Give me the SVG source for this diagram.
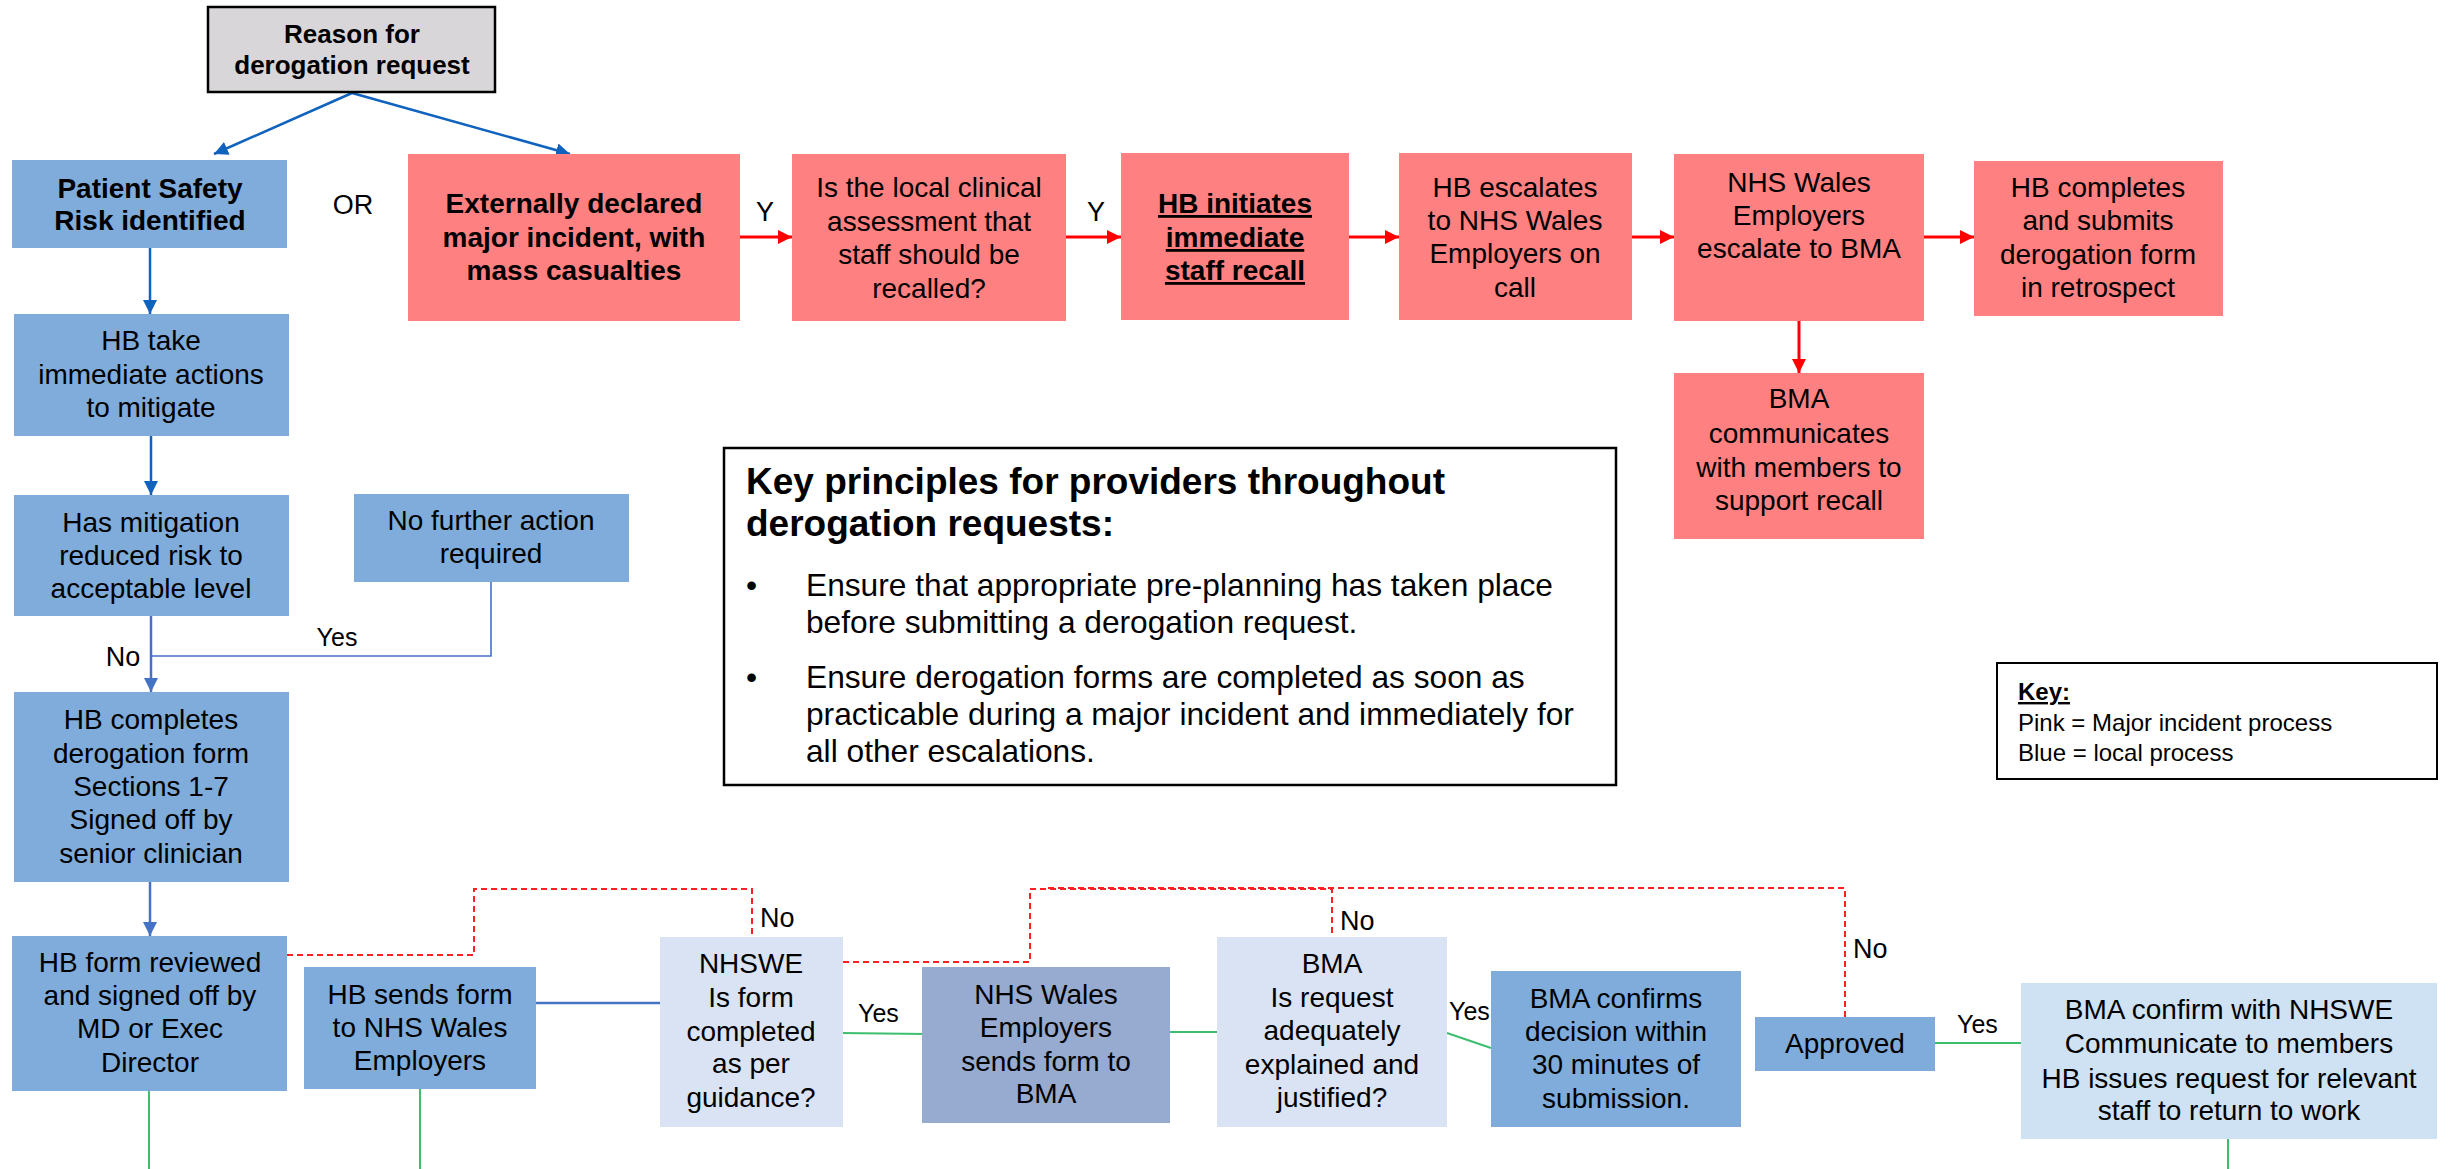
<svg xmlns="http://www.w3.org/2000/svg" width="2451" height="1169" viewBox="0 0 2451 1169">
<style>
text{font-family:"Liberation Sans",Arial,sans-serif;fill:#000}
.t{font-size:28px;text-anchor:middle}
.b{font-weight:bold}
.u{text-decoration:underline}
.lbl{font-size:27px}
.pink{fill:#FF8080}
.blue{fill:#7FACDA}
.pale{fill:#DAE3F3}
.pale2{fill:#CFE2F3}
.slate{fill:#97AACF}
.grey{fill:#D8D6D9;stroke:#000;stroke-width:2.5}
.frame{fill:#fff;stroke:#000;stroke-width:2.5}
.ab{fill:none;stroke:#0F62BE;stroke-width:2.5}
.ab2{fill:none;stroke:#4472C4;stroke-width:2.5}
.thin{fill:none;stroke:#4472C4;stroke-width:1.6}
.gr{fill:none;stroke:#3DBE6E;stroke-width:2}
.rd{fill:none;stroke:#FF0000;stroke-width:3}
.dash{fill:none;stroke:#FF2020;stroke-width:2;stroke-dasharray:6 4}
</style>
<defs>
<marker id="mb" markerUnits="userSpaceOnUse" markerWidth="16" markerHeight="16" refX="14" refY="7" orient="auto"><path d="M0,0 L14,7 L0,14 z" fill="#0F62BE"/></marker>
<marker id="mb2" markerUnits="userSpaceOnUse" markerWidth="16" markerHeight="16" refX="14" refY="7" orient="auto"><path d="M0,0 L14,7 L0,14 z" fill="#4472C4"/></marker>
<marker id="mr" markerUnits="userSpaceOnUse" markerWidth="16" markerHeight="16" refX="14" refY="7" orient="auto"><path d="M0,0 L14,7 L0,14 z" fill="#FF0000"/></marker>
</defs>

<g id="connectors">
<path class="ab" d="M352,93 L214,154" marker-end="url(#mb)"/>
<path class="ab" d="M352,93 L570,154" marker-end="url(#mb)"/>
<path class="ab" d="M150,248 L150,314" marker-end="url(#mb)"/>
<path class="ab" d="M151,436 L151,495" marker-end="url(#mb)"/>
<path class="thin" d="M491,582 L491,656 L151,656"/>
<path class="rd" d="M740,237 L792,237" marker-end="url(#mr)"/>
<path class="rd" d="M1066,237 L1121,237" marker-end="url(#mr)"/>
<path class="rd" d="M1349,237 L1399,237" marker-end="url(#mr)"/>
<path class="rd" d="M1632,237 L1674,237" marker-end="url(#mr)"/>
<path class="rd" d="M1924,237 L1974,237" marker-end="url(#mr)"/>
<path class="rd" d="M1799,321 L1799,373" marker-end="url(#mr)"/>
<path class="ab2" d="M150,882 L150,936" marker-end="url(#mb2)"/>
<path class="ab2" d="M536,1003 L660,1003"/>
<path class="gr" d="M149,1091 L149,1169"/>
<path class="gr" d="M420,1089 L420,1169"/>
<path class="gr" d="M840,1033 L926,1034"/>
<path class="gr" d="M1170,1032 L1224,1032"/>
<path class="gr" d="M1447,1033 L1491,1048"/>
<path class="gr" d="M1935,1043 L2021,1043"/>
<path class="gr" d="M2228,1134 L2228,1169"/>
<path class="dash" d="M287,955 L474,955 L474,889 L752,889 L752,937"/>
<path class="dash" d="M843,962 L1030,962 L1030,889 L1332,889 L1332,937"/>
<path class="dash" d="M1845,1017 L1845,888 L1045,888"/>
<text class="lbl" x="353" y="214" text-anchor="middle">OR</text>
<text class="lbl" x="765" y="221" text-anchor="middle">Y</text>
<text class="lbl" x="1096" y="221" text-anchor="middle">Y</text>
<text class="lbl" x="337" y="646" text-anchor="middle" style="font-size:25px">Yes</text>
<text class="lbl" x="123" y="666" text-anchor="middle">No</text>
<text class="lbl" x="760" y="927">No</text>
<text class="lbl" x="858" y="1022" style="font-size:25px">Yes</text>
<text class="lbl" x="1340" y="930">No</text>
<text class="lbl" x="1449" y="1020" style="font-size:25px">Yes</text>
<text class="lbl" x="1853" y="958">No</text>
<text class="lbl" x="1957" y="1033" style="font-size:25px">Yes</text>
</g>
<path class="ab2" d="M151,597 L151,692" marker-end="url(#mb2)"/>

<g id="reason">
<rect class="grey" x="208" y="7" width="287" height="85"/>
<text class="t b" x="352" y="43" style="font-size:26px">Reason for</text>
<text class="t b" x="352" y="74" style="font-size:26px">derogation request</text>
</g>

<g id="patient-safety">
<rect class="blue" x="12" y="160" width="275" height="88"/>
<text class="t b" x="150" y="198">Patient Safety</text>
<text class="t b" x="150" y="230">Risk identified</text>
</g>

<g id="hb-take">
<rect class="blue" x="14" y="314" width="275" height="122"/>
<text class="t" x="151" y="350">HB take</text>
<text class="t" x="151" y="384">immediate actions</text>
<text class="t" x="151" y="417">to mitigate</text>
</g>

<g id="has-mitigation">
<rect class="blue" x="14" y="495" width="275" height="121"/>
<text class="t" x="151" y="532">Has mitigation</text>
<text class="t" x="151" y="565">reduced risk to</text>
<text class="t" x="151" y="598">acceptable level</text>
</g>

<g id="no-further">
<rect class="blue" x="354" y="494" width="275" height="88"/>
<text class="t" x="491" y="530">No further action</text>
<text class="t" x="491" y="563">required</text>
</g>

<g id="hb-completes">
<rect class="blue" x="14" y="692" width="275" height="190"/>
<text class="t" x="151" y="729">HB completes</text>
<text class="t" x="151" y="763">derogation form</text>
<text class="t" x="151" y="796">Sections 1-7</text>
<text class="t" x="151" y="829">Signed off by</text>
<text class="t" x="151" y="863">senior clinician</text>
</g>

<g id="hb-form-reviewed">
<rect class="blue" x="12" y="936" width="275" height="155"/>
<text class="t" x="150" y="972">HB form reviewed</text>
<text class="t" x="150" y="1005">and signed off by</text>
<text class="t" x="150" y="1038">MD or Exec</text>
<text class="t" x="150" y="1072">Director</text>
</g>

<g id="hb-sends">
<rect class="blue" x="304" y="967" width="232" height="122"/>
<text class="t" x="420" y="1004">HB sends form</text>
<text class="t" x="420" y="1037">to NHS Wales</text>
<text class="t" x="420" y="1070">Employers</text>
</g>

<g id="nhswe-check">
<rect class="pale" x="660" y="937" width="183" height="190"/>
<text class="t" x="751" y="973">NHSWE</text>
<text class="t" x="751" y="1007">Is form</text>
<text class="t" x="751" y="1041">completed</text>
<text class="t" x="751" y="1073">as per</text>
<text class="t" x="751" y="1107">guidance?</text>
</g>

<g id="nhs-sends-bma">
<rect class="slate" x="922" y="967" width="248" height="156"/>
<text class="t" x="1046" y="1004">NHS Wales</text>
<text class="t" x="1046" y="1037">Employers</text>
<text class="t" x="1046" y="1071">sends form to</text>
<text class="t" x="1046" y="1103">BMA</text>
</g>

<g id="bma-check">
<rect class="pale" x="1217" y="937" width="230" height="190"/>
<text class="t" x="1332" y="973">BMA</text>
<text class="t" x="1332" y="1007">Is request</text>
<text class="t" x="1332" y="1040">adequately</text>
<text class="t" x="1332" y="1074">explained and</text>
<text class="t" x="1332" y="1107">justified?</text>
</g>

<g id="bma-confirms">
<rect class="blue" x="1491" y="971" width="250" height="156"/>
<text class="t" x="1616" y="1008">BMA confirms</text>
<text class="t" x="1616" y="1041">decision within</text>
<text class="t" x="1616" y="1074">30 minutes of</text>
<text class="t" x="1616" y="1108">submission.</text>
</g>

<g id="approved">
<rect class="blue" x="1755" y="1017" width="180" height="54"/>
<text class="t" x="1845" y="1053">Approved</text>
</g>

<g id="bma-confirm-nhswe">
<rect class="pale2" x="2021" y="983" width="416" height="156"/>
<text class="t" x="2229" y="1019">BMA confirm with NHSWE</text>
<text class="t" x="2229" y="1053">Communicate to members</text>
<text class="t" x="2229" y="1088">HB issues request for relevant</text>
<text class="t" x="2229" y="1120">staff to return to work</text>
</g>

<g id="externally-declared">
<rect class="pink" x="408" y="154" width="332" height="167"/>
<text class="t b" x="574" y="213">Externally declared</text>
<text class="t b" x="574" y="247">major incident, with</text>
<text class="t b" x="574" y="280">mass casualties</text>
</g>

<g id="local-assessment">
<rect class="pink" x="792" y="154" width="274" height="167"/>
<text class="t" x="929" y="197">Is the local clinical</text>
<text class="t" x="929" y="231">assessment that</text>
<text class="t" x="929" y="264">staff should be</text>
<text class="t" x="929" y="298">recalled?</text>
</g>

<g id="hb-initiates">
<rect class="pink" x="1121" y="153" width="228" height="167"/>
<text class="t b u" x="1235" y="213">HB initiates</text>
<text class="t b u" x="1235" y="247">immediate</text>
<text class="t b u" x="1235" y="280">staff recall</text>
</g>

<g id="hb-escalates">
<rect class="pink" x="1399" y="153" width="233" height="167"/>
<text class="t" x="1515" y="197">HB escalates</text>
<text class="t" x="1515" y="230">to NHS Wales</text>
<text class="t" x="1515" y="263">Employers on</text>
<text class="t" x="1515" y="297">call</text>
</g>

<g id="nhs-escalate-bma">
<rect class="pink" x="1674" y="154" width="250" height="167"/>
<text class="t" x="1799" y="192">NHS Wales</text>
<text class="t" x="1799" y="225">Employers</text>
<text class="t" x="1799" y="258">escalate to BMA</text>
</g>

<g id="hb-retrospect">
<rect class="pink" x="1974" y="161" width="249" height="155"/>
<text class="t" x="2098" y="197">HB completes</text>
<text class="t" x="2098" y="230">and submits</text>
<text class="t" x="2098" y="264">derogation form</text>
<text class="t" x="2098" y="297">in retrospect</text>
</g>

<g id="bma-communicates">
<rect class="pink" x="1674" y="373" width="250" height="166"/>
<text class="t" x="1799" y="408">BMA</text>
<text class="t" x="1799" y="443">communicates</text>
<text class="t" x="1799" y="477">with members to</text>
<text class="t" x="1799" y="510">support recall</text>
</g>

<g id="key-principles">
<rect class="frame" x="724" y="448" width="892" height="337"/>
<text x="746" y="494" font-size="37" font-weight="bold">Key principles for providers throughout</text>
<text x="746" y="536" font-size="37" font-weight="bold">derogation requests:</text>
<text x="746" y="596" font-size="31.7">•</text>
<text x="806" y="596" font-size="31.7">Ensure that appropriate pre-planning has taken place</text>
<text x="806" y="633" font-size="31.7">before submitting a derogation request.</text>
<text x="746" y="688" font-size="31.7">•</text>
<text x="806" y="688" font-size="31.7">Ensure derogation forms are completed as soon as</text>
<text x="806" y="725" font-size="31.7">practicable during a major incident and immediately for</text>
<text x="806" y="762" font-size="31.7">all other escalations.</text>
</g>

<g id="key">
<rect class="frame" x="1997" y="663" width="440" height="116" style="stroke-width:2"/>
<text class="b u" x="2018" y="700" font-size="24">Key:</text>
<text x="2018" y="731" font-size="24">Pink = Major incident process</text>
<text x="2018" y="761" font-size="24">Blue = local process</text>
</g>
</svg>
